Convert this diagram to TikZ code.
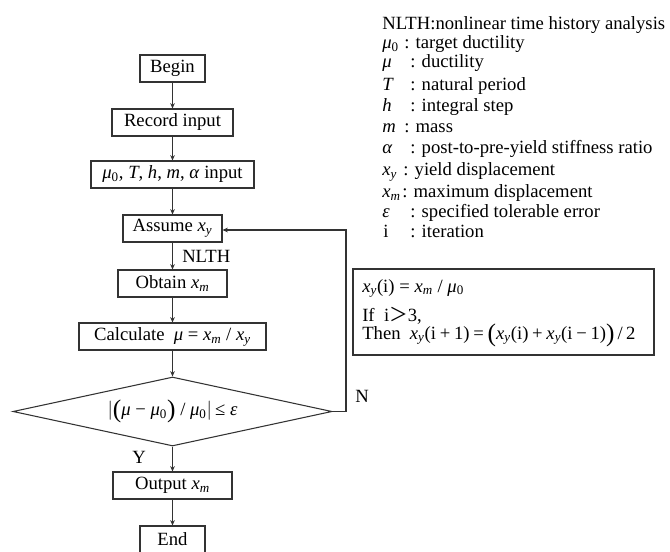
\documentclass[tikz,border=0pt]{standalone}
\usepackage{fontspec}
\setmainfont{Liberation Serif}
\newfontfamily\cjkfont{Noto Sans CJK SC}
\usetikzlibrary{shapes.geometric,arrows.meta}
\newcommand\vi[1]{\textit{#1}}
\newcommand\vsub[2]{\textit{#1}\textsubscript{\textit{#2}}}
\newcommand\muz{\textit{μ}\textsubscript{0}}
\newcommand\bigpar[1]{\raisebox{-1.5pt}{\fontsize{19}{19}\selectfont #1}}
\newcommand\op[1]{\hspace{0.2em}#1\hspace{0.2em}}
\begin{document}
\begin{tikzpicture}[x=0.75pt,y=-0.75pt,
  font=\fontsize{14}{17}\selectfont,
  box/.style={draw=black!80,line width=0.8pt,rectangle,minimum height=20.25pt,inner sep=0pt},
  arr/.style={draw=black!80,line width=0.8pt,-{Stealth[length=4pt,width=3.5pt]}},
  lbl/.style={inner sep=0pt},
  leg/.style={inner sep=0pt,anchor=base west},
]
\useasboundingbox (0,0) rectangle (670,552);
% flowchart
\node[box,minimum width=48.75pt] (begin) at (172.5,68.5) {Begin};
\node[box,minimum width=90.75pt] (record) at (172.5,122.5) {Record input};
\node[box,minimum width=122.25pt] (input) at (172.5,174.5) {\muz, \vi{T}, \vi{h}, \vi{m}, \vi{α} input};
\node[box,minimum width=74.25pt] (assume) at (172.5,228.5) {Assume \vsub{x}{y}};
\node[box,minimum width=81.75pt] (obtain) at (172.5,283.5) {Obtain \vsub{x}{m}};
\node[box,minimum width=140.25pt] (calc) at (172.5,336.5) {Calculate\ \ \vi{μ} = \vsub{x}{m} / \vsub{x}{y}};
\node[diamond,draw=black!80,line width=0.8pt,inner sep=0pt,aspect=4.6,minimum width=239.25pt,minimum height=51.75pt] (check) at (172.5,411.5) {$\Bigl|$\bigpar{(}\vi{μ} − \muz\bigpar{)} / \muz$\Bigr|$\,≤ \vi{ε}};
\node[box,minimum width=89.25pt] (output) at (172.5,485.5) {Output \vsub{x}{m}};
\node[box,minimum width=48.75pt] (end) at (172.5,539.5) {End};

\draw[arr] (begin) -- (record);
\draw[arr] (record) -- (input);
\draw[arr] (input) -- (assume);
\draw[arr] (assume) -- (obtain);
\draw[arr] (obtain) -- (calc);
\draw[arr] (calc) -- (check);
\draw[arr] (check) -- (output);
\draw[arr] (output) -- (end);
\coordinate (fbA) at (346,411.5);
\coordinate (fbB) at (346,230);
\draw[arr] (check.east) -- (fbA) -- (fbB) -- (assume.east |- fbB);

\node[lbl,anchor=west] (nlth) at (182,256) {NLTH};
\node[lbl] (nlbl) at (362,396) {N};
\node[lbl] (ylbl) at (139,457) {Y};

% legend
\node[leg] (l1) at (382,30) {NLTH:nonlinear time history analysis};
\node[leg] (s2) at (382,49) {\muz};  \node[leg] (t2) at (404,49) {: target ductility};
\node[leg] (s3) at (382,68) {\vi{μ}};    \node[leg] (t3) at (410,68) {: ductility};
\node[leg] (s4) at (382,91) {\vi{T}};      \node[leg] (t4) at (410,91) {: natural period};
\node[leg] (s5) at (382,112) {\vi{h}};     \node[leg] (t5) at (410,112) {: integral step};
\node[leg] (s6) at (382,133) {\vi{m}};     \node[leg] (t6) at (404,133) {: mass};
\node[leg] (s7) at (382,154) {\vi{α}};\node[leg] (t7) at (410,154) {: post-to-pre-yield stiffness ratio};
\node[leg] (s8) at (382,176) {\vsub{x}{y}};   \node[leg] (t8) at (403,176) {: yield displacement};
\node[leg] (s9) at (382,198) {\vsub{x}{m}};   \node[leg] (t9) at (402,198) {: maximum displacement};
\node[leg] (s10) at (382,218) {\vi{ε}}; \node[leg] (t10) at (410,218) {: specified tolerable error};
\node[leg] (s11) at (383,238) {i};      \node[leg] (t11) at (410,238) {: iteration};

% formula box
\node[draw=black!80,line width=0.8pt,rectangle,inner sep=0pt,minimum width=225.75pt,minimum height=64.5pt] (fbox) at (503.5,312) {};
\node[leg] (f1) at (362,292) {\vsub{x}{y}(i) = \vsub{x}{m} / \muz};
\node[leg] (f2) at (362,321) {If\ \ i{\cjkfont ＞}3,};
\node[leg] (f3) at (362,339) {Then\ \ \vsub{x}{y}(i\op{+}1)\op{=}\bigpar{(}\vsub{x}{y}(i)\op{+}\vsub{x}{y}(i\op{−}1)\bigpar{)}\,/\,2};
\end{tikzpicture}
\end{document}
